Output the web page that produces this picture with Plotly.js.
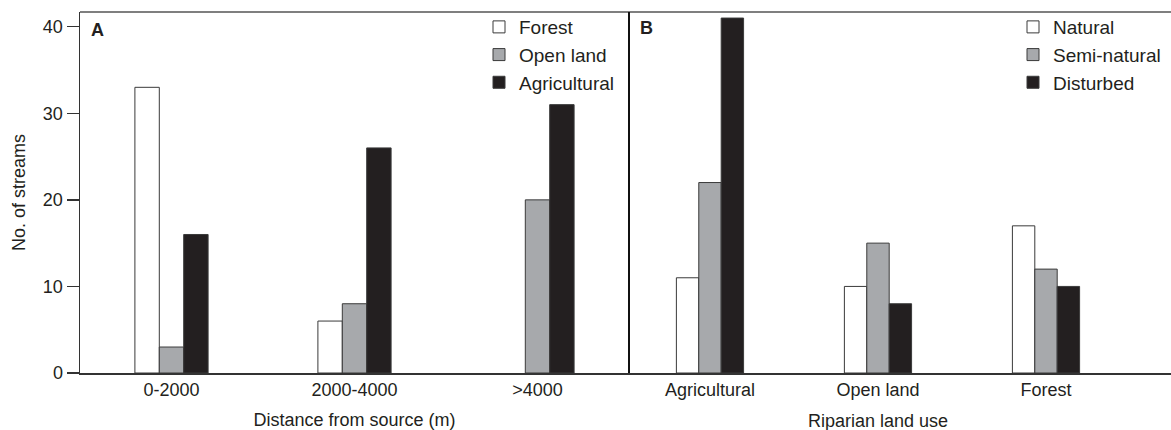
<!DOCTYPE html>
<html>
<head>
<meta charset="utf-8">
<script src="https://cdn.plot.ly/plotly-3.0.1.min.js"></script>
<style>html,body{margin:0;padding:0;background:#fff}#chart{width:1171px;height:430px}</style>
</head>
<body>
<div id="chart"></div>
<script>
// Panel A: distance from source
const distCategories = ['0-2000', '2000-4000', '>4000'];
const forestA = [33, 6, 0];
const openLandA = [3, 8, 20];
const agriculturalA = [16, 26, 31];

// Panel B: riparian land use
const landUseCategories = ['Agricultural', 'Open land', 'Forest'];
const naturalB = [11, 10, 17];
const semiNaturalB = [22, 15, 12];
const disturbedB = [41, 8, 10];

const FONT = 'Liberation Sans, Arial, Helvetica, sans-serif';
const INK = '#231f20';
const WHITE = '#ffffff', GRAY = '#a7a9ac', BLACK = '#231f20';
// no outline on zero-height bars
const outline = vals => ({color: '#3a3a3a', width: vals.map(v => (v ? 1 : 0))});

const split = 549 / 1091;

const traces = [
  {type: 'bar', name: 'Forest', x: distCategories, y: forestA, xaxis: 'x', yaxis: 'y', legend: 'legend',
   marker: {color: WHITE, line: outline(forestA)}},
  {type: 'bar', name: 'Open land', x: distCategories, y: openLandA, xaxis: 'x', yaxis: 'y', legend: 'legend',
   marker: {color: GRAY, line: outline(openLandA)}},
  {type: 'bar', name: 'Agricultural', x: distCategories, y: agriculturalA, xaxis: 'x', yaxis: 'y', legend: 'legend',
   marker: {color: BLACK, line: outline(agriculturalA)}},
  {type: 'bar', name: 'Natural', x: landUseCategories, y: naturalB, xaxis: 'x2', yaxis: 'y', legend: 'legend2',
   marker: {color: WHITE, line: outline(naturalB)}},
  {type: 'bar', name: 'Semi-natural', x: landUseCategories, y: semiNaturalB, xaxis: 'x2', yaxis: 'y', legend: 'legend2',
   marker: {color: GRAY, line: outline(semiNaturalB)}},
  {type: 'bar', name: 'Disturbed', x: landUseCategories, y: disturbedB, xaxis: 'x2', yaxis: 'y', legend: 'legend2',
   marker: {color: BLACK, line: outline(disturbedB)}}
];

const legendBase = {
  y: 1.011, yanchor: 'top', xanchor: 'left', bgcolor: 'rgba(0,0,0,0)',
  font: {family: FONT, size: 19, color: INK}, tracegroupgap: 0, itemclick: false
};

const layout = {
  width: 1171, height: 430,
  margin: {l: 80, r: 0, t: 12, b: 57, pad: 0},
  paper_bgcolor: '#fff', plot_bgcolor: '#fff',
  font: {family: FONT, size: 18, color: INK},
  barmode: 'group', bargap: 0.6, bargroupgap: 0,
  showlegend: true,
  legend: Object.assign({x: (479 - 80) / 1091}, legendBase),
  legend2: Object.assign({x: (1013 - 80) / 1091}, legendBase),
  xaxis: {
    domain: [0, split], range: [-0.5, 2.5], type: 'category',
    showline: true, linecolor: '#333', linewidth: 1.5, ticks: '', showgrid: false, zeroline: false,
    tickfont: {family: FONT, size: 18, color: INK},
    title: {text: 'Distance from source (m)', font: {family: FONT, size: 18, color: INK}, standoff: 14}
  },
  xaxis2: {
    domain: [split, 1], range: [-0.482, 2.744], type: 'category', anchor: 'y',
    showline: true, linecolor: '#333', linewidth: 1.5, ticks: '', showgrid: false, zeroline: false,
    tickfont: {family: FONT, size: 18, color: INK}
  },
  yaxis: {
    range: [0, 41.7], dtick: 10, tick0: 0, ticks: 'outside', ticklen: 12, tickwidth: 1.5, tickcolor: '#333',
    showline: true, linecolor: '#333', linewidth: 1.5, showgrid: false, zeroline: false,
    tickfont: {family: FONT, size: 18, color: INK},
    title: {text: 'No. of streams', font: {family: FONT, size: 18, color: INK}, standoff: 12}
  },
  shapes: [
    {type: 'line', xref: 'paper', yref: 'paper', x0: 0, x1: 1, y0: 1, y1: 1, line: {color: '#555', width: 1.5}},
    {type: 'line', xref: 'paper', yref: 'paper', x0: split, x1: split, y0: 0, y1: 1, line: {color: '#111', width: 2}}
  ],
  annotations: [
    {text: '<b>A</b>', xref: 'paper', yref: 'paper', x: 9 / 1091, y: 1 - 18 / 361, xanchor: 'left', yanchor: 'middle',
     showarrow: false, font: {family: FONT, size: 18, color: INK}},
    {text: '<b>B</b>', xref: 'paper', yref: 'paper', x: split + 9 / 1091, y: 1 - 16 / 361, xanchor: 'left', yanchor: 'middle',
     showarrow: false, font: {family: FONT, size: 18, color: INK}},
    {text: 'Riparian land use', xref: 'x2', yref: 'paper', x: 1, y: 0, yshift: -48, xanchor: 'center', yanchor: 'middle',
     showarrow: false, font: {family: FONT, size: 18, color: INK}}
  ]
};

Plotly.newPlot('chart', traces, layout, {displayModeBar: false, staticPlot: true});
</script>
</body>
</html>
